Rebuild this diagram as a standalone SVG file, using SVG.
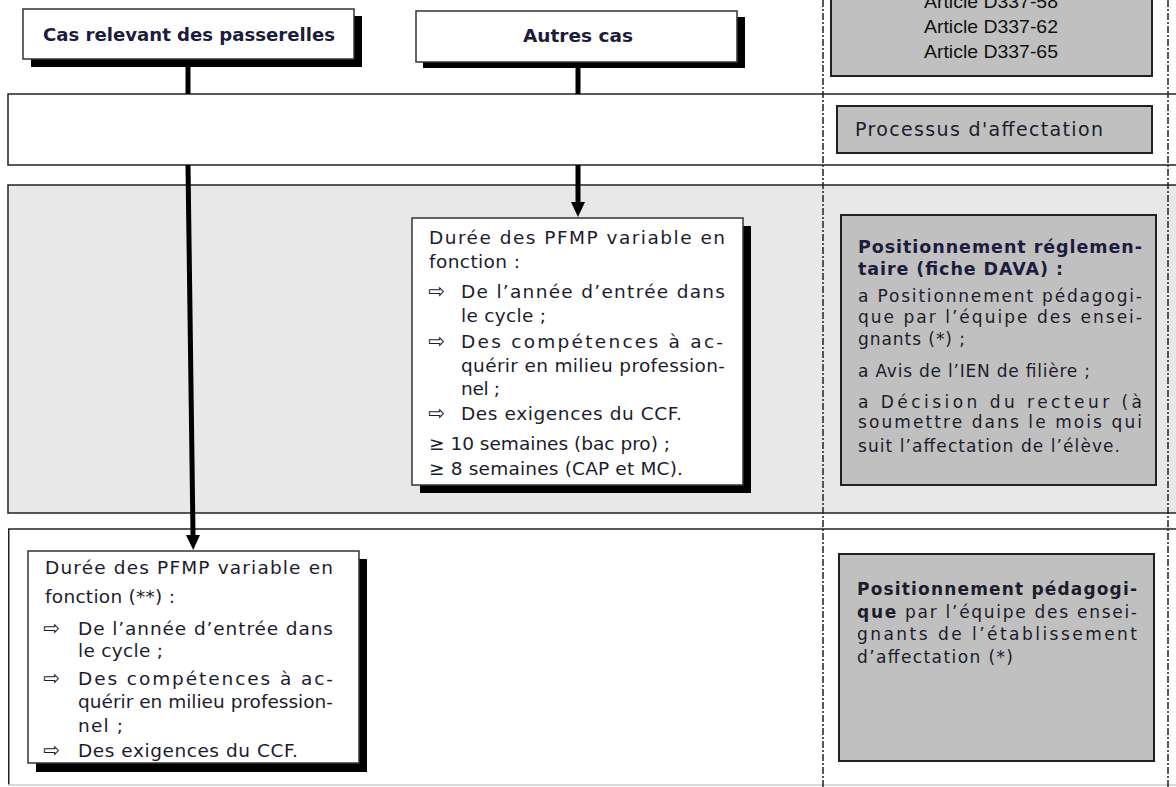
<svg xmlns="http://www.w3.org/2000/svg" width="1176" height="787" viewBox="0 0 1176 787">
<style>
.t{font-family:"DejaVu Sans",Verdana,sans-serif;font-size:18.5px;fill:#1c1c2c}
.s{font-family:"DejaVu Sans",Verdana,sans-serif;font-size:17px;fill:#1c1c2c}
.b{font-weight:bold}
.h{font-family:"DejaVu Sans",Verdana,sans-serif;font-size:18px;font-weight:bold;fill:#1c1c3c}
.ar{font-family:"DejaVu Sans",sans-serif;font-size:20px;fill:#1c1c2c}
.art{font-family:"Liberation Sans",Arial,sans-serif;font-size:19px;fill:#111}
.box{fill:#fff;stroke:#333;stroke-width:1.5}
.gbox{fill:#c0c0c0;stroke:#222;stroke-width:2}
.sh{fill:#000}
.dash{stroke:#222;stroke-width:1.5;stroke-dasharray:7 2 2 2;fill:none}
.conn{stroke:#000;stroke-width:5;fill:none}
</style>
<defs>
<marker id="ah" markerUnits="userSpaceOnUse" markerWidth="16" markerHeight="16" viewBox="0 -8 16 16" refX="0" refY="0" orient="auto">
<path d="M0,-7 L15,0 L0,7 Z" fill="#000"/>
</marker>
</defs>
<rect width="1176" height="787" fill="#fff"/>

<g id="band1">
<rect x="8" y="94" width="1180" height="71" fill="#fff" stroke="#222" stroke-width="1.5"/>
</g>
<g id="band2">
<rect x="8" y="185" width="1180" height="328" fill="#e8e8e8" stroke="#222" stroke-width="1.5"/>
</g>
<g id="band3">
<rect x="8" y="529" width="1180" height="256" fill="#fff"/>
<line x1="8" y1="529" x2="1176" y2="529" stroke="#222" stroke-width="1.5"/>
<line x1="8.75" y1="529" x2="8.75" y2="785" stroke="#222" stroke-width="1.5"/>
<line x1="8" y1="785" x2="1176" y2="785" stroke="#ccc" stroke-width="1.5"/>
</g>

<g id="separators">
<line class="dash" x1="823" y1="0" x2="823" y2="787"/>
<line class="dash" x1="1168" y1="0" x2="1168" y2="787"/>
</g>

<g id="connectors">
<line class="conn" x1="188" y1="66" x2="188" y2="94"/>
<line class="conn" x1="578" y1="66" x2="578" y2="94"/>
<line class="conn" x1="578" y1="165" x2="578" y2="202" marker-end="url(#ah)"/>
<line class="conn" x1="188" y1="165" x2="193" y2="535" marker-end="url(#ah)"/>
</g>

<g id="cas-passerelles">
<rect class="sh" x="31" y="16" width="331" height="51"/>
<rect class="box" x="23" y="9" width="331" height="50"/>
<text class="h" x="43" y="41" textLength="292" lengthAdjust="spacingAndGlyphs">Cas relevant des passerelles</text>
</g>

<g id="autres-cas">
<rect class="sh" x="423" y="17" width="322" height="51"/>
<rect class="box" x="416" y="11" width="321" height="51"/>
<text class="h" x="523" y="42" textLength="110" lengthAdjust="spacingAndGlyphs">Autres cas</text>
</g>

<g id="articles">
<rect class="gbox" x="831" y="-40" width="321" height="116"/>
<text class="art" x="924" y="8" textLength="134" lengthAdjust="spacingAndGlyphs">Article D337-58</text>
<text class="art" x="924" y="33" textLength="134" lengthAdjust="spacingAndGlyphs">Article D337-62</text>
<text class="art" x="924" y="58" textLength="134" lengthAdjust="spacingAndGlyphs">Article D337-65</text>
</g>

<g id="processus">
<rect class="gbox" x="837" y="106" width="315" height="47"/>
<text class="t" x="855" y="136" style="font-size:19px" textLength="248" lengthAdjust="spacing">Processus d'affectation</text>
</g>

<g id="duree-autres">
<rect class="sh" x="420" y="226" width="331" height="267"/>
<rect class="box" x="412" y="218" width="331" height="267"/>
<text class="t" x="429" y="244" textLength="296" lengthAdjust="spacing">Durée des PFMP variable en</text>
<text class="t" x="429" y="268" textLength="91" lengthAdjust="spacing">fonction :</text>
<text class="ar" x="428" y="298">⇨</text>
<text class="t" x="461" y="298" textLength="264" lengthAdjust="spacing">De l’année d’entrée dans</text>
<text class="t" x="461" y="322" textLength="85" lengthAdjust="spacing">le cycle ;</text>
<text class="ar" x="428" y="348">⇨</text>
<text class="t" x="461" y="348" textLength="262" lengthAdjust="spacing">Des compétences à ac-</text>
<text class="t" x="461" y="372" textLength="264" lengthAdjust="spacing">quérir en milieu profession-</text>
<text class="t" x="461" y="395" textLength="39" lengthAdjust="spacing">nel ;</text>
<text class="ar" x="428" y="420">⇨</text>
<text class="t" x="461" y="420" textLength="221" lengthAdjust="spacing">Des exigences du CCF.</text>
<text class="t" x="429" y="450" textLength="241" lengthAdjust="spacing">≥ 10 semaines (bac pro) ;</text>
<text class="t" x="429" y="475" textLength="254" lengthAdjust="spacing">≥ 8 semaines (CAP et MC).</text>
</g>

<g id="positionnement-reglementaire">
<rect class="gbox" x="841" y="215" width="315" height="270"/>
<text class="h" x="858" y="253" style="font-size:17.5px" textLength="284" lengthAdjust="spacing">Positionnement réglemen-</text>
<text class="h" x="858" y="275" style="font-size:17.5px" textLength="205" lengthAdjust="spacing">taire (fiche DAVA) :</text>
<text class="s" x="858" y="302" textLength="284" lengthAdjust="spacing">a Positionnement pédagogi-</text>
<text class="s" x="858" y="323" textLength="284" lengthAdjust="spacing">que par l’équipe des ensei-</text>
<text class="s" x="858" y="345" textLength="107" lengthAdjust="spacing">gnants (*) ;</text>
<text class="s" x="858" y="377" textLength="232" lengthAdjust="spacing">a Avis de l’IEN de filière ;</text>
<text class="s" x="858" y="408" textLength="284" lengthAdjust="spacing">a Décision du recteur (à</text>
<text class="s" x="858" y="428" textLength="284" lengthAdjust="spacing">soumettre dans le mois qui</text>
<text class="s" x="858" y="452" textLength="262" lengthAdjust="spacing">suit l’affectation de l’élève.</text>
</g>

<g id="duree-passerelles">
<rect class="sh" x="36" y="559" width="331" height="213"/>
<rect class="box" x="28" y="551" width="331" height="212"/>
<text class="t" x="45" y="574" textLength="288" lengthAdjust="spacing">Durée des PFMP variable en</text>
<text class="t" x="45" y="603" textLength="130" lengthAdjust="spacing">fonction (**) :</text>
<text class="ar" x="43" y="635">⇨</text>
<text class="t" x="78" y="635" textLength="255" lengthAdjust="spacing">De l’année d’entrée dans</text>
<text class="t" x="78" y="657" textLength="85" lengthAdjust="spacing">le cycle ;</text>
<text class="ar" x="43" y="685">⇨</text>
<text class="t" x="78" y="685" textLength="255" lengthAdjust="spacing">Des compétences à ac-</text>
<text class="t" x="78" y="708" textLength="255" lengthAdjust="spacing">quérir en milieu profession-</text>
<text class="t" x="78" y="732" textLength="45" lengthAdjust="spacing">nel ;</text>
<text class="ar" x="43" y="757">⇨</text>
<text class="t" x="78" y="757" textLength="220" lengthAdjust="spacing">Des exigences du CCF.</text>
</g>

<g id="positionnement-pedagogique">
<rect class="gbox" x="839" y="554" width="315" height="207"/>
<text class="s" x="857" y="595" textLength="280" lengthAdjust="spacing"><tspan class="b">Positionnement pédagogi-</tspan></text>
<text class="s" x="857" y="618" textLength="280" lengthAdjust="spacing"><tspan class="b">que</tspan> par l’équipe des ensei-</text>
<text class="s" x="857" y="640" textLength="280" lengthAdjust="spacing">gnants de l’établissement</text>
<text class="s" x="857" y="663" textLength="156" lengthAdjust="spacing">d’affectation (*)</text>
</g>
</svg>
